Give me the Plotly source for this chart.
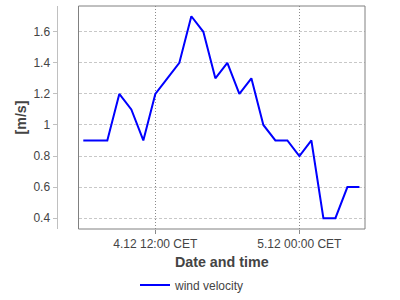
import plotly.graph_objects as go

times = [
    "2019-12-04 06:00", "2019-12-04 07:00", "2019-12-04 08:00", "2019-12-04 09:00",
    "2019-12-04 10:00", "2019-12-04 11:00", "2019-12-04 12:00", "2019-12-04 13:00",
    "2019-12-04 14:00", "2019-12-04 15:00", "2019-12-04 16:00", "2019-12-04 17:00",
    "2019-12-04 18:00", "2019-12-04 19:00", "2019-12-04 20:00", "2019-12-04 21:00",
    "2019-12-04 22:00", "2019-12-04 23:00", "2019-12-05 00:00", "2019-12-05 01:00",
    "2019-12-05 02:00", "2019-12-05 03:00", "2019-12-05 04:00", "2019-12-05 05:00",
]
wind_velocity = [0.9, 0.9, 0.9, 1.2, 1.1, 0.9, 1.2, 1.3, 1.4, 1.7, 1.6, 1.3,
                 1.4, 1.2, 1.3, 1.0, 0.9, 0.9, 0.8, 0.9, 0.4, 0.4, 0.6, 0.6]
x_tickvals = ["2019-12-04 12:00", "2019-12-05 00:00"]
x_ticktext = ["4.12 12:00 CET", "5.12 00:00 CET"]

FONT = "Liberation Sans, Arial, sans-serif"
TXT = "#444444"

fig = go.Figure()
fig.add_trace(go.Scatter(
    x=times, y=wind_velocity, mode="lines", name="wind velocity",
    line=dict(color="#0000ff", width=2),
))

fig.update_layout(
    width=400, height=300,
    margin=dict(l=0, r=0, t=6, b=67),
    paper_bgcolor="white", plot_bgcolor="white",
    font=dict(family=FONT, size=12, color=TXT),
    showlegend=True,
    legend=dict(orientation="h", x=0.3375, xanchor="left", y=-0.251, yanchor="middle",
                font=dict(size=12, color=TXT), bgcolor="rgba(0,0,0,0)"),
    xaxis=dict(
        domain=[78.5 / 400, 365 / 400],
        range=["2019-12-04 05:36", "2019-12-05 05:28"],
        tickvals=x_tickvals, ticktext=x_ticktext,
        showgrid=True, gridcolor="#8a8a8a", griddash="1px,2px", gridwidth=1,
        ticks="outside", ticklen=4, tickcolor="#8a8a8a",
        showline=False, zeroline=False,
        tickfont=dict(size=12, color=TXT),
        title=dict(text="<b>Date and time</b>", font=dict(size=14.3, color=TXT), standoff=6),
        automargin=False,
    ),
    yaxis=dict(
        anchor="free", position=56.5 / 400,
        range=[0.33, 1.766],
        tick0=0, dtick=0.2,
        showgrid=True, gridcolor="#c8c8c8", griddash="3px,2px", gridwidth=1,
        showline=True, linecolor="#c0c0c0", linewidth=1,
        ticks="outside", ticklen=4, tickcolor="#c0c0c0",
        zeroline=False,
        tickfont=dict(size=12, color=TXT),
        title=dict(text="<b>[m/s]</b>", font=dict(size=14.3, color=TXT), standoff=2),
        automargin=False,
    ),
    shapes=[dict(type="rect", xref="x domain", yref="y domain", x0=0, y0=0, x1=1, y1=1,
                 line=dict(color="#808080", width=1), layer="above")],
)

fig.write_html("out.html")
